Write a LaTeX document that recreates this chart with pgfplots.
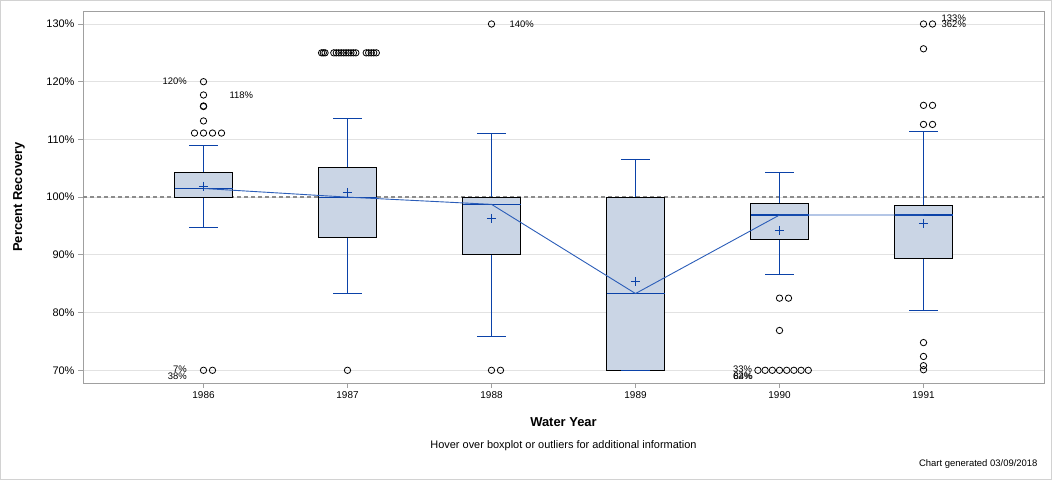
\documentclass[border=0pt]{standalone}
\usepackage{pgfplots}
\pgfplotsset{compat=1.18}
\usepackage{fontspec}
\setmainfont{Liberation Sans}
\definecolor{boxfill}{HTML}{CAD5E5}
\definecolor{wblue}{HTML}{0B42A8}
\definecolor{lblue}{HTML}{2B5DB8}
\definecolor{gridc}{HTML}{E2E2E2}
\definecolor{framec}{HTML}{A0A0A0}
\definecolor{refc}{HTML}{8C8C8C}
\begin{document}
\begin{tikzpicture}
\useasboundingbox (0bp,0bp) rectangle (1056bp,480bp);
\draw[color=gray!35, line width=1bp] (0.5bp,0.5bp) rectangle (1051bp,479.5bp);
\begin{axis}[
  at={(83bp,97bp)}, anchor=south west,
  scale only axis, width=961bp, height=372bp,
  xmin=-0.83681, xmax=5.83681, ymin=67.8, ymax=132.25,
  xtick={0,...,5}, xticklabels={1986,1987,1988,1989,1990,1991},
  ytick={70,80,...,130},
  yticklabel={\pgfmathprintnumber{\tick}\%},
  /pgf/number format/assume math mode=true,
  xtick pos=bottom, ytick pos=left,
  tick align=outside, tick style={framec, line width=0.8bp}, major tick length=5bp,
  axis line style={framec, line width=0.8bp},
  ymajorgrids, grid style={gridc, line width=0.8bp},
  xticklabel style={font=\fontsize{10}{12}\selectfont},
  yticklabel style={font=\fontsize{11}{13}\selectfont},
  clip=false,
]
\addplot[refc, line width=1.6bp, dash pattern=on 4bp off 3bp] coordinates {(-0.83681,100) (5.83681,100)};
% whiskers and caps
\addplot[wblue, line width=1.3bp, unbounded coords=jump] coordinates {
 (0,104.3) (0,108.9) (0,nan) (-0.1,108.9) (0.1,108.9) (0,nan)
 (0,100.0) (0,94.8) (0,nan) (-0.1,94.8) (0.1,94.8) (0,nan)
 (1,105.2) (1,113.65) (1,nan) (0.9,113.65) (1.1,113.65) (1,nan)
 (1,93.0) (1,83.3) (1,nan) (0.9,83.3) (1.1,83.3) (1,nan)
 (2,100.0) (2,111.05) (2,nan) (1.9,111.05) (2.1,111.05) (2,nan)
 (2,90.1) (2,75.9) (2,nan) (1.9,75.9) (2.1,75.9) (2,nan)
 (3,100.0) (3,106.55) (3,nan) (2.9,106.55) (3.1,106.55) (3,nan)
 (4,98.9) (4,104.3) (4,nan) (3.9,104.3) (4.1,104.3) (4,nan)
 (4,92.7) (4,86.6) (4,nan) (3.9,86.6) (4.1,86.6) (4,nan)
 (5,98.6) (5,111.4) (5,nan) (4.9,111.4) (5.1,111.4) (5,nan)
 (5,89.4) (5,80.4) (5,nan) (4.9,80.4) (5.1,80.4)
};
% boxes
\addplot[draw=black, fill=boxfill, line width=1bp] coordinates {(-0.2014,100.0) (0.2014,100.0) (0.2014,104.3) (-0.2014,104.3)} -- cycle;
\addplot[draw=black, fill=boxfill, line width=1bp] coordinates {(0.7986,93.0) (1.2014,93.0) (1.2014,105.2) (0.7986,105.2)} -- cycle;
\addplot[draw=black, fill=boxfill, line width=1bp] coordinates {(1.7986,90.1) (2.2014,90.1) (2.2014,100.0) (1.7986,100.0)} -- cycle;
\addplot[draw=black, fill=boxfill, line width=1bp] coordinates {(2.7986,70.0) (3.2014,70.0) (3.2014,100.0) (2.7986,100.0)} -- cycle;
\addplot[draw=black, fill=boxfill, line width=1bp] coordinates {(3.7986,92.7) (4.2014,92.7) (4.2014,98.9) (3.7986,98.9)} -- cycle;
\addplot[draw=black, fill=boxfill, line width=1bp] coordinates {(4.7986,89.4) (5.2014,89.4) (5.2014,98.6) (4.7986,98.6)} -- cycle;
% medians and 1989 lower whisker cap
\addplot[wblue, line width=1.2bp, unbounded coords=jump] coordinates {
 (-0.2014,101.5) (0.2014,101.5) (0,nan)
 (0.7986,100.0) (1.2014,100.0) (1,nan)
 (1.7986,98.75) (2.2014,98.75) (2,nan)
 (2.7986,83.3) (3.2014,83.3) (3,nan)
 (3.7986,96.9) (4.2014,96.9) (4,nan)
 (4.7986,96.9) (5.2014,96.9) (5,nan)
 (2.9,70.0) (3.1,70.0)
};
% median connect line
\addplot[lblue, line width=0.9bp] coordinates {(0,101.5) (1,100.0) (2,98.75) (3,83.3) (4,96.9) (5,96.9)};
% means
\addplot[only marks, mark=+, mark size=4.6bp, wblue, mark options={line width=1.1bp}] coordinates {(0,101.9) (1,100.8) (2,96.3) (3,85.4) (4,94.25) (5,95.45)};
% outliers
\addplot[only marks, mark=o, mark size=3.2bp, black, mark options={line width=0.8bp}] coordinates {
 (0,120.0) (0,117.7) (0,115.7) (0,115.8) (0,113.2)
 (-0.0625,111.1) (0,111.1) (0.0625,111.1) (0.125,111.1)
 (0,70) (0.0625,70)
 (0.82,125) (0.832,125) (0.844,125)
 (0.905,125) (0.922,125) (0.939,125) (0.956,125) (0.973,125) (0.990,125) (1.007,125) (1.024,125) (1.041,125) (1.058,125)
 (1.13,125) (1.147,125) (1.165,125) (1.182,125) (1.2,125)
 (1,70)
 (2,130) (2,70) (2.0625,70)
 (4,82.5) (4.0625,82.5) (4,76.9)
 (3.85,70) (3.9,70) (3.95,70) (4,70) (4.05,70) (4.1,70) (4.15,70) (4.2,70)
 (5,130) (5.0625,130) (5,125.7) (5,115.9) (5.0625,115.9) (5,112.6) (5.0625,112.6)
 (5,74.8) (5,72.4) (5,70.8) (5,70.1)
};
% outlier labels
\node[anchor=east, inner sep=0pt, font=\fontsize{9.5}{11}\selectfont] at (axis cs:-0.115,120.1) {120\%};
\node[anchor=west, inner sep=0pt, font=\fontsize{9.5}{11}\selectfont] at (axis cs:0.18,117.6) {118\%};
\node[anchor=east, inner sep=0pt, font=\fontsize{9.5}{11}\selectfont] at (axis cs:-0.115,70.1) {7\%};
\node[anchor=east, inner sep=0pt, font=\fontsize{9.5}{11}\selectfont] at (axis cs:-0.115,69.0) {38\%};
\node[anchor=west, inner sep=0pt, font=\fontsize{9.5}{11}\selectfont] at (axis cs:2.125,130.0) {140\%};
\node[anchor=east, inner sep=0pt, font=\fontsize{9.5}{11}\selectfont] at (axis cs:3.81,70.1) {33\%};
\node[anchor=east, inner sep=0pt, font=\fontsize{9.5}{11}\selectfont] at (axis cs:3.81,69.0) {62\%};
\node[anchor=east, inner sep=0pt, font=\fontsize{9.5}{11}\selectfont] at (axis cs:3.815,69.0) {84\%};
\node[anchor=west, inner sep=0pt, font=\fontsize{9.5}{11}\selectfont] at (axis cs:5.125,131.0) {133\%};
\node[anchor=west, inner sep=0pt, font=\fontsize{9.5}{11}\selectfont] at (axis cs:5.125,130.0) {362\%};
\end{axis}
\node[font=\bfseries\fontsize{13}{15}\selectfont] at (563.5bp,58bp) {Water Year};
\node[rotate=90, font=\bfseries\fontsize{13}{15}\selectfont] at (19bp,283bp) {Percent Recovery};
\node[font=\fontsize{11}{13}\selectfont] at (563.5bp,34bp) {Hover over boxplot or outliers for additional information};
\node[anchor=east, font=\fontsize{9.5}{11}\selectfont] at (1041bp,16bp) {Chart generated 03/09/2018};
\end{tikzpicture}
\end{document}
